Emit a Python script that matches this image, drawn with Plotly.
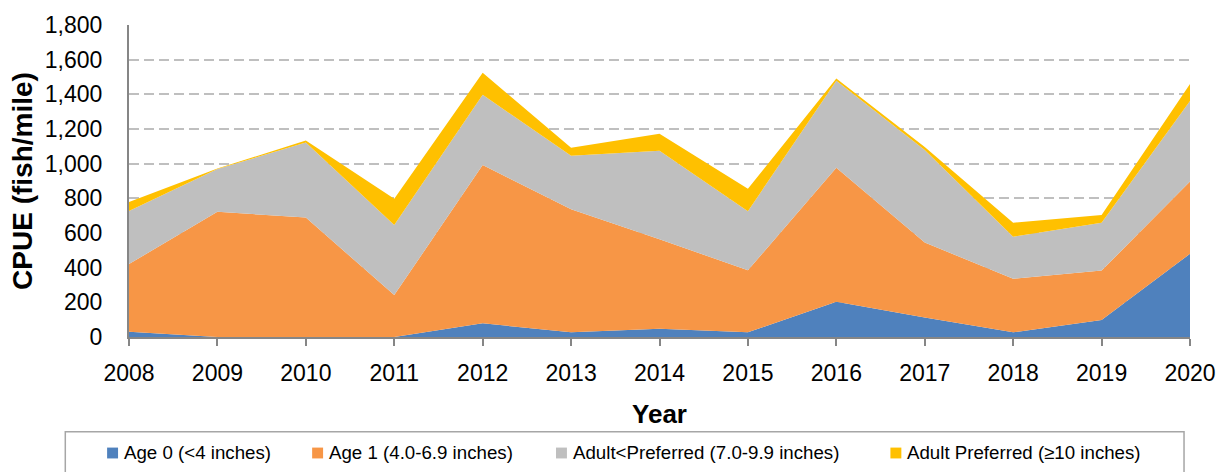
import plotly.graph_objects as go

years = [2008, 2009, 2010, 2011, 2012, 2013, 2014, 2015, 2016, 2017, 2018, 2019, 2020]
age0 = [31, 0, 0, 0, 79, 27, 47, 27, 204, 113, 27, 98, 480]
age1 = [390, 722, 689, 242, 913, 710, 517, 358, 773, 432, 309, 285, 417]
adult_lt_pref = [306, 247, 433, 404, 405, 308, 511, 341, 502, 534, 243, 276, 465]
adult_pref = [52, 3, 12, 151, 127, 47, 97, 129, 13, 17, 80, 45, 97]

series_names = ["Age 0 (<4 inches)", "Age 1 (4.0-6.9 inches)",
                "Adult<Preferred (7.0-9.9 inches)", "Adult Preferred (≥10 inches)"]
series_values = [age0, age1, adult_lt_pref, adult_pref]
colors = ["#4F81BD", "#F79646", "#BFBFBF", "#FFC000"]

FONT = "Liberation Sans, Arial, sans-serif"
W, H = 1228, 472
ML, MR, MT, MB = 129, 33, 21, 135
PW, PH = W - ML - MR, H - MT - MB

fig = go.Figure()
for name, vals, col in zip(series_names, series_values, colors):
    fig.add_trace(go.Scatter(
        x=years, y=vals, name=name, mode="lines", stackgroup="one",
        line=dict(width=0, color=col), fillcolor=col, showlegend=False,
    ))

fig.update_layout(
    width=W, height=H,
    margin=dict(l=ML, r=MR, t=MT, b=MB, pad=0),
    paper_bgcolor="white", plot_bgcolor="white",
    font=dict(family=FONT, color="#000000"),
    showlegend=False,
)
fig.update_xaxes(
    range=[2008, 2020], tickmode="array", tickvals=years,
    ticktext=[str(y) for y in years],
    showgrid=False, zeroline=False,
    showline=True, linecolor="#868686", linewidth=2,
    ticks="outside", ticklen=7, tickwidth=2, tickcolor="#868686",
    tickfont=dict(size=23, family=FONT), ticklabelstandoff=7,
    title=dict(text="<b>Year</b>", font=dict(size=26, family=FONT), standoff=20),
)
fig.update_yaxes(
    range=[0, 1800], dtick=200, tickformat=",",
    showgrid=True, gridcolor="#BFBFBF", gridwidth=2, griddash="10px,5px",
    zeroline=False, showline=True, linecolor="#868686", linewidth=2,
    ticks="", tickfont=dict(size=23, family=FONT), ticklabelstandoff=20,
    title=dict(text="<b>CPUE (fish/mile)</b>", font=dict(size=28, family=FONT), standoff=4),
)

def px_x(px):
    return (px - ML) / PW

def px_y(py):
    return (H - MB - py) / PH

# legend box
fig.add_shape(type="rect", xref="paper", yref="paper",
              x0=px_x(65), x1=px_x(1189), y0=px_y(490), y1=px_y(433),
              line=dict(color="#A6A6A6", width=1.5), fillcolor="rgba(0,0,0,0)")

sq_x = [107, 313, 558, 894]
for name, col, sx in zip(series_names, colors, sq_x):
    fig.add_shape(type="rect", xref="paper", yref="paper",
                  x0=px_x(sx), x1=px_x(sx + 11), y0=px_y(460), y1=px_y(449),
                  line=dict(width=0), fillcolor=col)
    fig.add_annotation(xref="paper", yref="paper", x=px_x(sx + 15), y=px_y(454),
                       xanchor="left", yanchor="middle", showarrow=False,
                       text=name, font=dict(size=18.7, family=FONT, color="#000000"))

fig.write_html("out.html", config={"displayModeBar": False},
               post_script="document.body.style.margin='0';document.body.style.overflow='hidden';")
